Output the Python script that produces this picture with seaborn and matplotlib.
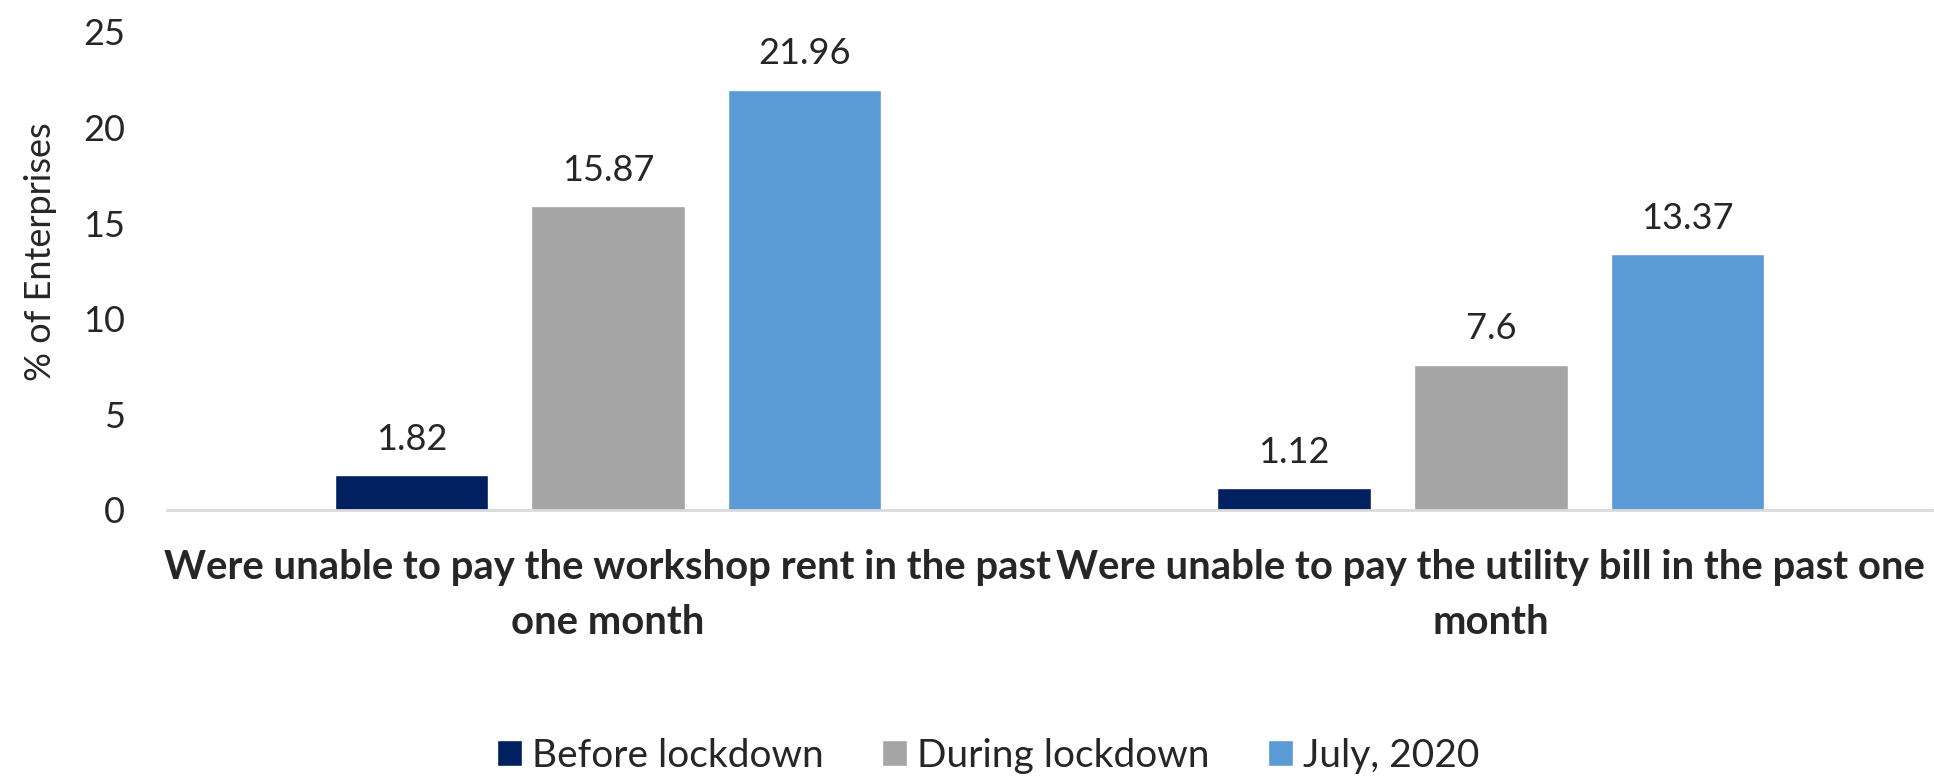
import pandas as pd
import numpy as np
import matplotlib.pyplot as plt
import seaborn as sns

# data
categories = ["Were unable to pay the workshop rent in the past\none month",
              "Were unable to pay the utility bill in the past one\nmonth"]
periods = ["Before lockdown", "During lockdown", "July, 2020"]
before = [1.82, 1.12]
during = [15.87, 7.6]
july = [21.96, 13.37]
colors = ["#002060", "#A5A5A5", "#5B9BD5"]

df = pd.DataFrame({
    "Category": categories * 3,
    "Period": [p for p in periods for _ in categories],
    "Value": before + during + july,
})

sns.set_theme(style="white")
plt.rcParams['font.family'] = ['Lato', 'DejaVu Sans']

fig = plt.figure(figsize=(19.34, 7.76), dpi=100)
ax = fig.add_axes([0.0861, 0.343, 0.913, 0.616])

sns.barplot(data=df, x="Category", y="Value", hue="Period", palette=colors,
            saturation=1, width=0.668, gap=0.218, ax=ax, legend=True)

for c in ax.containers:
    ax.bar_label(c, fmt="%g", padding=14, fontsize=26)

ax.set_ylim(0, 25)
ax.set_xlim(-0.5, 1.5)
ax.set_yticks([0, 5, 10, 15, 20, 25])
ax.tick_params(axis="y", labelsize=26, pad=30, length=0)
ax.tick_params(axis="x", length=0, pad=28)
for lbl in ax.get_xticklabels():
    lbl.set_fontsize(28.8)
    lbl.set_fontweight("bold")
    lbl.set_linespacing(1.6)

ax.set_xlabel("")
ax.set_ylabel("% of Enterprises", fontsize=26)
ax.yaxis.set_label_coords(-0.062, 0.54)

for s in ["top", "right", "left"]:
    ax.spines[s].set_visible(False)
ax.spines["bottom"].set_color("#D9D9D9")
ax.spines["bottom"].set_linewidth(2)

handles, labels = ax.get_legend_handles_labels()
ax.get_legend().remove()
fig.legend(handles, labels, loc="center", bbox_to_anchor=(0.511, 0.026), ncol=3,
           frameon=False, fontsize=28, handlelength=0.65, handleheight=0.65,
           handletextpad=0.25, columnspacing=1.5)

plt.savefig("out.png", dpi=100)
